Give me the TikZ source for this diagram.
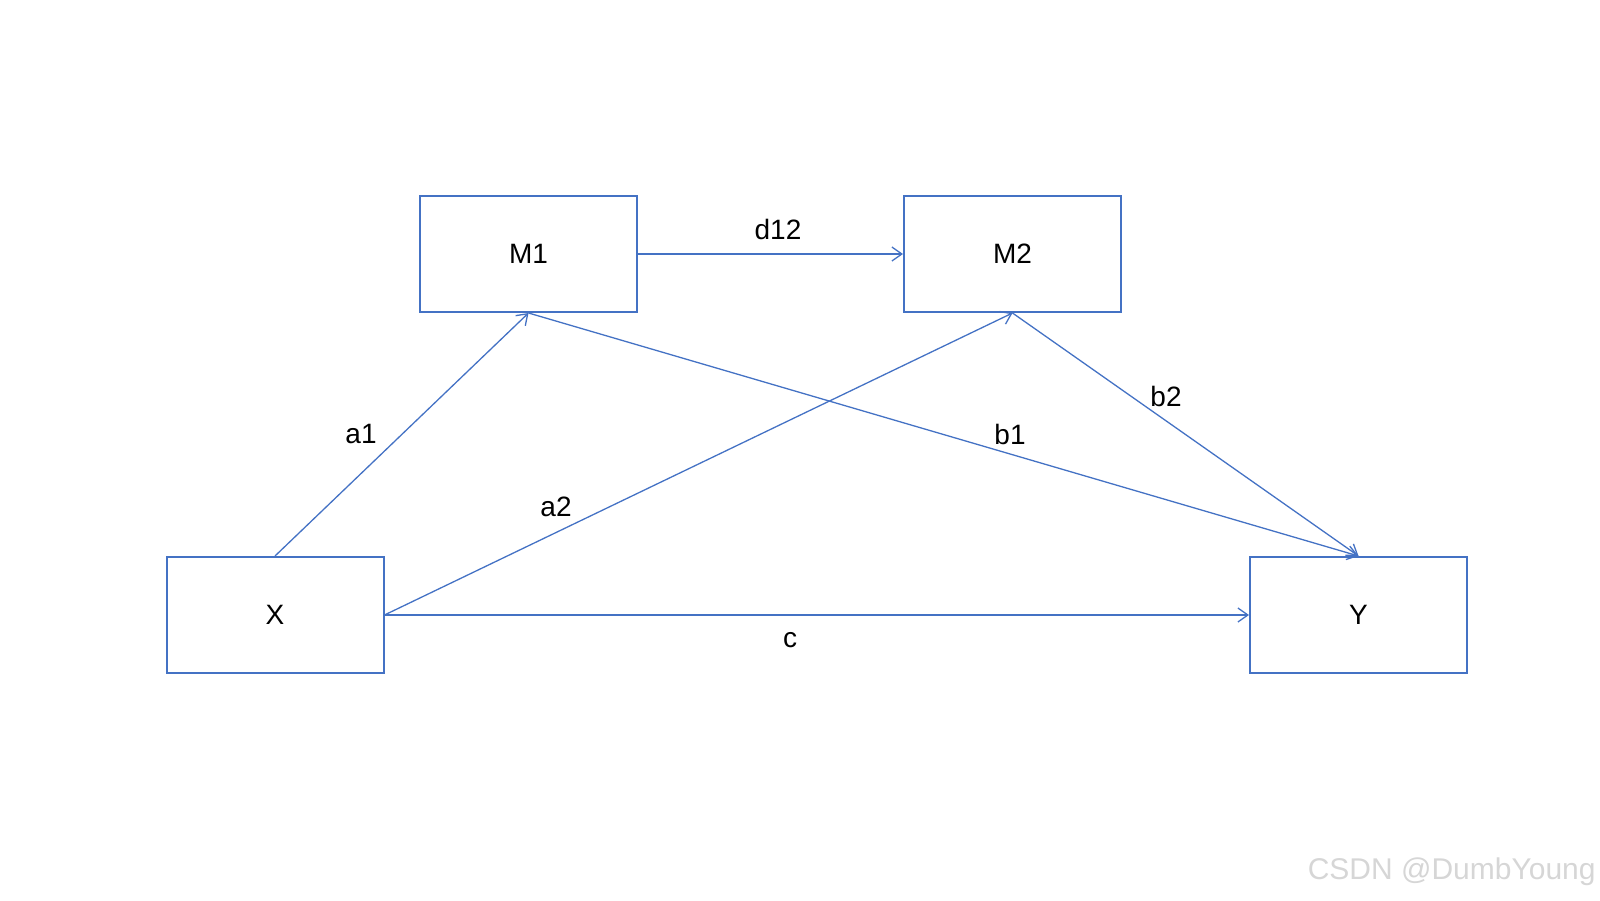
\documentclass[tikz,border=0pt]{standalone}
\usepackage{fontspec}
\setmainfont{Liberation Sans}
\usetikzlibrary{arrows.meta}
\definecolor{boxblue}{HTML}{4472C4}
\definecolor{wm}{HTML}{D6D6D6}
\begin{document}
\begin{tikzpicture}[x=0.5pt,y=-0.5pt,
  box/.style={draw=boxblue,line width=1pt,minimum width=108.5pt,minimum height=58pt,inner sep=0pt,font=\fontsize{14}{16}\selectfont},
  conn/.style={draw=boxblue,line width=0.65pt,-{Straight Barb[length=5pt,width=7pt,line width=0.65pt]}},
  lab/.style={font=\fontsize{14}{16}\selectfont,inner sep=0pt}]
\useasboundingbox (0,0) rectangle (1600,900);
\node[box] (M1) at (528.5,254) {M1};
\node[box] (M2) at (1012.5,254) {M2};
\node[box] (X) at (275,615) {X};
\node[box] (Y) at (1358.5,615) {Y};
\draw[conn] (M1.east) -- (M2.west);
\draw[conn] (X.north) -- (M1.south);
\draw[conn] (M1.south) -- (Y.north);
\draw[conn] (X.east) -- (M2.south);
\draw[conn] (M2.south) -- (Y.north);
\draw[conn] (X.east) -- (Y.west);
\node[lab] (ld) at (778,229) {d12};
\node[lab] (la1) at (361,434) {a1};
\node[lab] (la2) at (556,507) {a2};
\node[lab] (lb1) at (1010,434) {b1};
\node[lab] (lb2) at (1166,396) {b2};
\node[lab] (lc) at (790,640) {c};
\node[anchor=east,text=wm,font=\fontsize{15}{17}\selectfont,inner sep=0pt] (wmk) at (1596,872) {CSDN @DumbYoung};
\end{tikzpicture}
\end{document}
